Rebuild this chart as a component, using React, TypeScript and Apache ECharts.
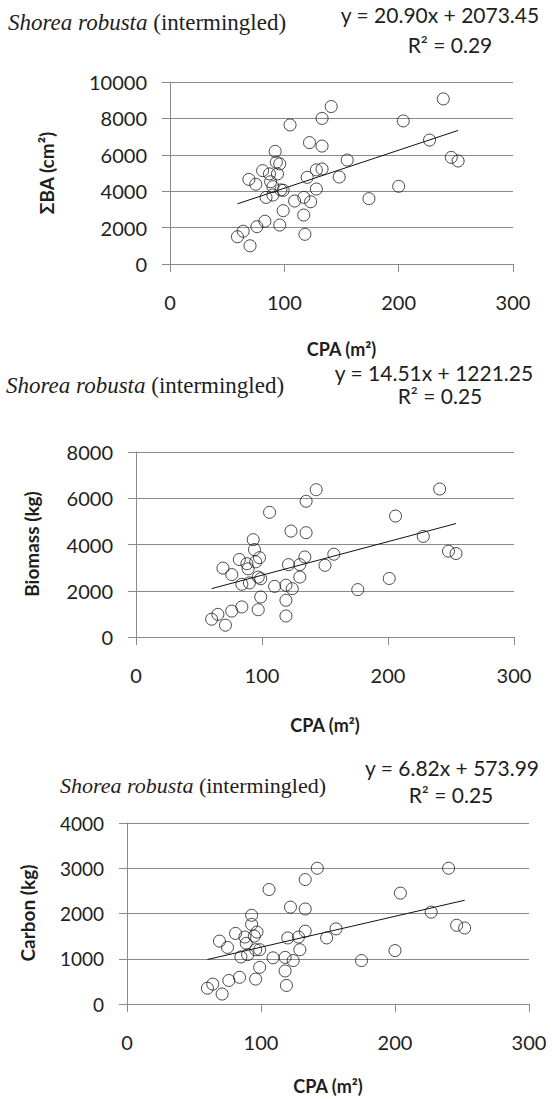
import React, { useEffect, useRef } from "react";
import * as echarts from "echarts";

// ---------- data ----------
const xTicks = [0, 100, 200, 300];
const speciesName = "Shorea robusta";
const speciesSuffix = " (intermingled)";
const xAxisTitle = "CPA (m²)";
const yAxisTitles = ["ΣBA (cm²)", "Biomass (kg)", "Carbon (kg)"];
const yMaxima = [10000, 8000, 4000];
const yIntervals = [2000, 2000, 1000];
const slopes = [20.9, 14.51, 6.82];
const intercepts = [2073.45, 1221.25, 573.99];
const rSquared = [0.29, 0.25, 0.25];

const basalArea: [number, number][] = [
  [59, 1500], [64, 1800], [69, 4650], [70, 1000], [75, 4380], [76, 2050], [81, 5130], [83, 2350],
  [84, 3660], [87, 4950], [88, 4520], [90, 4250], [90, 3790], [92, 6190], [93, 5590], [94, 4950],
  [96, 5500], [96, 2140], [97, 4070], [99, 4050], [99, 2930], [105, 7640], [109, 3460], [117, 3660],
  [117, 2690], [118, 1630], [120, 4760], [122, 6670], [123, 3420], [128, 5170], [128, 4120], [133, 8000],
  [133, 6480], [133, 5220], [141, 8650], [148, 4780], [155, 5710], [174, 3590], [200, 4270], [204, 7860],
  [227, 6810], [239, 9070], [246, 5860], [252, 5660],
];

const biomass: [number, number][] = [
  [60, 770], [65, 980], [69, 2980], [71, 510], [76, 2700], [76, 1120], [82, 3350], [84, 2280],
  [84, 1300], [88, 3170], [89, 2950], [90, 2340], [93, 4210], [94, 3780], [95, 3250], [97, 2590],
  [97, 1180], [98, 3430], [99, 2520], [99, 1730], [106, 5390], [110, 2190], [119, 2240], [119, 1590],
  [119, 910], [121, 3130], [123, 4580], [124, 2090], [130, 3130], [130, 2590], [134, 3460], [135, 5870],
  [135, 4510], [143, 6370], [150, 3100], [157, 3580], [176, 2050], [201, 2530], [206, 5230], [228, 4350],
  [241, 6400], [248, 3710], [254, 3610],
];

const carbon: [number, number][] = [
  [60, 350], [64, 440], [69, 1390], [71, 220], [75, 1250], [76, 520], [81, 1560], [84, 590],
  [85, 1040], [88, 1480], [89, 1340], [90, 1090], [93, 1960], [93, 1760], [95, 1500], [96, 1200],
  [96, 550], [97, 1590], [99, 1200], [99, 810], [106, 2530], [109, 1020], [118, 1030], [118, 730],
  [119, 410], [120, 1460], [122, 2140], [124, 960], [128, 1480], [129, 1200], [133, 2750], [133, 2100],
  [133, 1610], [142, 3000], [149, 1460], [156, 1660], [175, 960], [200, 1180], [204, 2450], [227, 2030],
  [240, 3000], [246, 1740], [252, 1680],
];

const panels = [basalArea, biomass, carbon];

// ---------- layout (pixels) ----------
const grids = [
  { left: 170, top: 82, width: 343, height: 182 },
  { left: 136, top: 452, width: 378, height: 185 },
  { left: 127, top: 823, width: 402, height: 181 },
];
const titleTops = [11, 374, 774];
const titleLefts = [8, 6, 60];
const eqPos = [
  { x: 440, y: 14, rx: 450, ry: 44 },
  { x: 434, y: 372, rx: 440, ry: 395 },
  { x: 452, y: 767, rx: 451, ry: 794 },
];
const yNamePos = [
  { x: 46, y: 173 },
  { x: 31, y: 544 },
  { x: 27, y: 913 },
];
const xNameY = [349, 725, 1086];

const axisGray = "#8a8a8a";
const textColor = "#1e1e1e";
const sans = "Lato";
const serif = "Liberation Serif";

export default function App() {
  const ref = useRef<HTMLDivElement>(null);

  useEffect(() => {
    if (!ref.current) return;
    const chart = echarts.init(ref.current, undefined, { renderer: "svg" });

    const xAxes: any[] = [];
    const yAxes: any[] = [];
    const series: any[] = [];
    const titles: any[] = [];
    const graphics: any[] = [];

    panels.forEach((data, i) => {
      xAxes.push({
        type: "value",
        gridIndex: i,
        min: xTicks[0],
        max: xTicks[xTicks.length - 1],
        interval: xTicks[1] - xTicks[0],
        axisLine: { show: true, onZero: false, lineStyle: { color: axisGray, width: 1 } },
        axisTick: { show: true, inside: false, length: 8, lineStyle: { color: axisGray } },
        splitLine: { show: false },
        axisLabel: {
          margin: 28,
          color: textColor,
          fontFamily: sans,
          fontSize: 20,
          formatter: (v: number) => String(v),
        },
      });
      yAxes.push({
        type: "value",
        gridIndex: i,
        min: 0,
        max: yMaxima[i],
        interval: yIntervals[i],
        axisLine: { show: true, lineStyle: { color: axisGray, width: 1 } },
        axisTick: { show: true, inside: false, length: 8, lineStyle: { color: axisGray } },
        splitLine: { show: true, lineStyle: { color: axisGray, width: 1 } },
        axisLabel: {
          margin: 23,
          color: textColor,
          fontFamily: sans,
          fontSize: i === 2 ? 19 : 20,
          formatter: (v: number) => String(v),
        },
      });

      series.push({
        type: "scatter",
        xAxisIndex: i,
        yAxisIndex: i,
        data,
        symbol: "circle",
        symbolSize: 12,
        itemStyle: { color: "rgba(0,0,0,0)", borderColor: "#1a1a1a", borderWidth: 1 },
        emphasis: { disabled: true },
        z: 3,
      });

      const xs = data.map((d) => d[0]);
      const xMin = Math.min(...xs);
      const xMax = Math.max(...xs);
      series.push({
        type: "line",
        xAxisIndex: i,
        yAxisIndex: i,
        data: [
          [xMin, slopes[i] * xMin + intercepts[i]],
          [xMax, slopes[i] * xMax + intercepts[i]],
        ],
        symbol: "none",
        lineStyle: { color: "#111", width: 1 },
        emphasis: { disabled: true },
        z: 2,
      });

      const tSize = i === 2 ? 22 : 23;
      titles.push({
        text: `{i|${speciesName}}{n|${speciesSuffix}}`,
        left: titleLefts[i],
        top: titleTops[i],
        padding: 0,
        textStyle: {
          fontFamily: serif,
          fontSize: tSize,
          fontWeight: "normal",
          color: textColor,
          rich: {
            i: { fontFamily: serif, fontStyle: "italic", fontSize: tSize, color: textColor },
            n: { fontFamily: serif, fontStyle: "normal", fontSize: tSize, color: textColor },
          },
        },
      });

      graphics.push({
        type: "text",
        x: eqPos[i].x,
        y: eqPos[i].y,
        style: {
          text: `y = ${slopes[i].toFixed(2)}x + ${intercepts[i].toFixed(2)}`,
          fontFamily: sans,
          fontSize: 21,
          fill: textColor,
          align: "center",
          verticalAlign: "middle",
        },
      });
      graphics.push({
        type: "text",
        x: eqPos[i].rx,
        y: eqPos[i].ry,
        style: {
          text: `R² = ${rSquared[i].toFixed(2)}`,
          fontFamily: sans,
          fontSize: 21,
          fill: textColor,
          align: "center",
          verticalAlign: "middle",
        },
      });
      graphics.push({
        type: "text",
        x: yNamePos[i].x,
        y: yNamePos[i].y,
        rotation: Math.PI / 2,
        style: {
          text: yAxisTitles[i],
          fontFamily: sans,
          fontSize: 19,
          fontWeight: "bold",
          fill: textColor,
          align: "center",
          verticalAlign: "middle",
        },
      });
      graphics.push({
        type: "text",
        x: grids[i].left + grids[i].width / 2,
        y: xNameY[i],
        style: {
          text: xAxisTitle,
          fontFamily: sans,
          fontSize: 18,
          fontWeight: "bold",
          fill: textColor,
          align: "center",
          verticalAlign: "middle",
        },
      });
    });

    chart.setOption({
      animation: false,
      backgroundColor: "#ffffff",
      title: titles,
      grid: grids.map((g) => ({ ...g, containLabel: false })),
      xAxis: xAxes,
      yAxis: yAxes,
      series,
      graphic: graphics,
    });

    return () => chart.dispose();
  }, []);

  return (
    <div
      ref={ref}
      style={{ position: "absolute", left: 0, top: 0, width: 552, height: 1099, background: "#fff" }}
    />
  );
}
